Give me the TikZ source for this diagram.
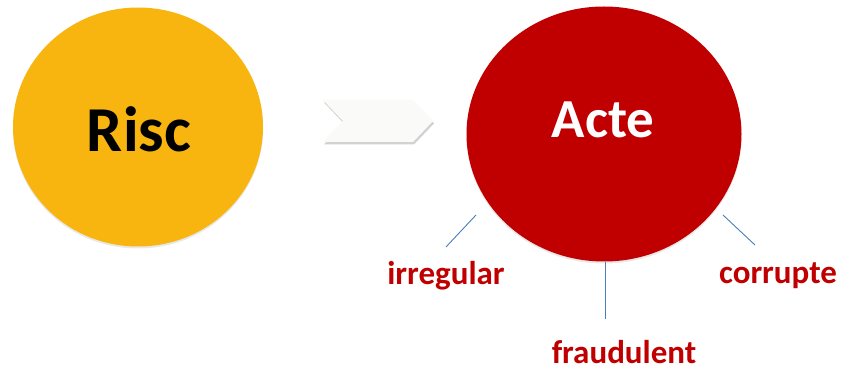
\documentclass[tikz,border=0pt]{standalone}
\usepackage{fontspec}
\setmainfont{Carlito}
\usetikzlibrary{shapes.geometric,shadows}
\definecolor{sunc}{HTML}{F8B50F}
\definecolor{redc}{HTML}{C00000}
\definecolor{linec}{HTML}{4A7EBB}
\definecolor{chevc}{HTML}{FAFAF8}
\tikzset{
  bigcirc/.style={ellipse, inner sep=0pt, draw=none,
    drop shadow={opacity=0.18, shadow xshift=0pt, shadow yshift=-2pt}},
  bigtext/.style={anchor=base, font=\bfseries\fontsize{#1}{#1}\selectfont},
  lbl/.style={anchor=base, text=redc, font=\bfseries\fontsize{33}{36}\selectfont, inner sep=0pt},
  tick/.style={draw=linec, line width=0.9pt}
}
\begin{document}
\begin{tikzpicture}[x=1pt,y=-1pt]
\useasboundingbox (0,0) rectangle (844,374);
\fill[white] (0,0) rectangle (844,374);
% circles
\node[bigcirc, fill=sunc, minimum width=250pt, minimum height=239pt] (risc) at (138,127) {};
\node[bigcirc, fill=redc, minimum width=275pt, minimum height=255pt] (acte) at (604,134) {};
\node[bigtext=64, text=black, inner sep=0pt] (risctxt) at (139,152) {Risc};
\node[bigtext=55, text=white, inner sep=0pt] (actetxt) at (603,138) {Acte};
% chevron
\fill[chevc, drop shadow={opacity=0.35, shadow xshift=1pt, shadow yshift=-2.5pt}]
  (323,100) -- (413,100) -- (433,121) -- (413,142) -- (323,142) -- (343,121) -- cycle;
% labels
\node[lbl] (irr) at (446,285) {irregular};
\node[lbl] (fra) at (624,363) {fraudulent};
\node[lbl] (cor) at (778,284) {corrupte};
% ticks
\coordinate (i1) at (476,215); \coordinate (i2) at (446,247);
\coordinate (f1) at (605,262); \coordinate (f2) at (605,319);
\coordinate (c1) at (723,215); \coordinate (c2) at (755,245);
\draw[tick] (i1) -- (i2);
\draw[tick] (f1) -- (f2);
\draw[tick] (c1) -- (c2);
\end{tikzpicture}
\end{document}
